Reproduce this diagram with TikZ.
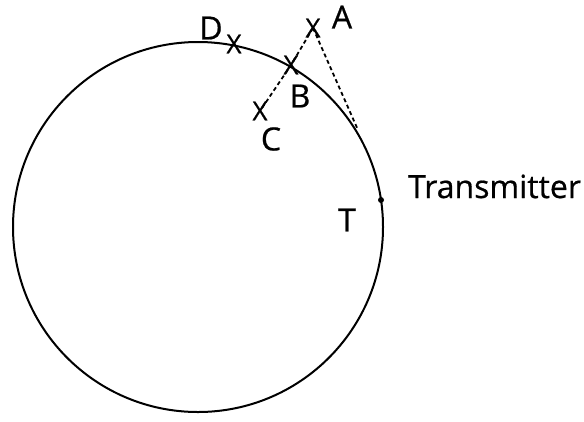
\documentclass[tikz,border=0pt]{standalone}
\usepackage{fontspec}
\setmainfont[FakeBold=0.6,AutoFakeBold=0.6]{Open Sans}
\begin{document}
\begin{tikzpicture}[x=1bp,y=-1bp,
  lbl/.style={inner sep=0pt,font=\fontsize{32bp}{34bp}\selectfont\bfseries},
  xmark/.style={inner sep=0pt,font=\fontsize{26bp}{28bp}\selectfont\bfseries},
  dline/.style={dashed,dash pattern=on 4bp off 3bp,line width=1.8bp}]
\useasboundingbox (0,0) rectangle (584,421);
\coordinate (O) at (198,227);
\draw[line width=2bp] (O) circle[radius=185];
\fill (381,200) circle[radius=3] coordinate (Tx);
\node[xmark] (xD) at (234,44) {X};
\node[xmark] (xB) at (291,65) {X};
\node[xmark] (xA) at (313,28) {X};
\node[xmark] (xC) at (260,111) {X};
\coordinate (tan) at (358,130);
\draw[dline] (xA.center) -- (xB.center) -- (xC.center);
\draw[dline] (xA.center) -- (tan);
\node[lbl] (D) at (211,28) {D};
\node[lbl] (A) at (342,17) {A};
\node[lbl] (B) at (300,96) {B};
\node[lbl] (C) at (271,139) {C};
\node[lbl] (T) at (347,220) {T};
\node[lbl,anchor=base west] (tr) at (408,198) {Transmitter};
\end{tikzpicture}
\end{document}
